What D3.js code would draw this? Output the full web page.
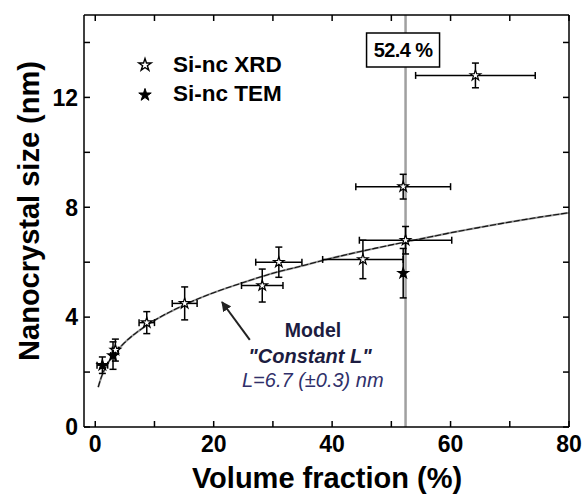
<!DOCTYPE html>
<meta charset="utf-8" />
<style>
  body {
    margin: 0;
    background: #fff;
  }

  svg text {
    font-family: "Liberation Sans", Arial, sans-serif;
  }

  .frame line {
    stroke: #000;
    stroke-width: 1.5px;
  }

  .errs line {
    stroke: #000;
    stroke-width: 1.5px;
  }
</style>
<svg width="582" height="500"></svg>

<script src="https://d3js.org/d3.v7.js"></script>
<script>
  /* global d3 */

  // Si-nc XRD points (open stars)
  var xrdX = [3.4, 8.7, 15.1, 28.2, 31.0, 45.2, 52.4, 52.0, 64.2];
  var xrdY = [2.8, 3.8, 4.5, 5.15, 6.0, 6.1, 6.8, 8.75, 12.8];
  var xrdXErr = [0.5, 1.3, 2.1, 3.5, 3.9, 6.8, 7.8, 8.0, 10.1];
  var xrdYErr = [0.4, 0.4, 0.6, 0.6, 0.55, 0.7, 0.5, 0.45, 0.45];

  // Si-nc TEM points (filled stars)
  var temX = [1.2, 3.0, 52.0];
  var temY = [2.25, 2.6, 5.6];
  var temXErr = [0.9, 0.4, 0];
  var temYErr = [0.3, 0.5, 0.9];

  // model "Constant L" curve
  var modelX = [0.5, 1, 2, 3, 5, 8, 10, 15, 20, 25, 30, 35, 40, 45, 50, 55, 60, 65, 70, 75, 80];
  var modelY = [1.45, 1.8, 2.27, 2.6, 3.08, 3.6, 3.88, 4.44, 4.89, 5.26, 5.6, 5.87, 6.15, 6.4, 6.63, 6.85, 7.07, 7.27, 7.46, 7.64, 7.8];

  var xMajor = [0, 20, 40, 60, 80];
  var xMinor = [10, 30, 50, 70];
  var yMajor = [0, 4, 8, 12];
  var yMinor = [2, 6, 10, 14];

  var markerX = 52.4;
  var markerLabel = "52.4 %";

  var svg = d3.select("svg");
  var plotL = 84,
    plotR = 569,
    plotT = 15,
    plotB = 427;

  var x = d3.scaleLinear().domain([-1.9, 80]).range([plotL, plotR]);
  var y = d3.scaleLinear().domain([0, 15]).range([plotB, plotT]);

  // vertical marker line
  svg
    .append("line")
    .attr("x1", x(markerX))
    .attr("x2", x(markerX))
    .attr("y1", y(0))
    .attr("y2", y(15))
    .attr("stroke", "#a0a0a0")
    .attr("stroke-width", 2.5);

  // model curve
  var modelPts = modelX.map(function (d, i) {
    return [d, modelY[i]];
  });
  var line = d3
    .line()
    .x(function (d) {
      return x(d[0]);
    })
    .y(function (d) {
      return y(d[1]);
    })
    .curve(d3.curveMonotoneX);

  svg
    .append("path")
    .attr("d", line(modelPts))
    .attr("fill", "none")
    .attr("stroke", "#909090")
    .attr("stroke-width", 2);
  svg
    .append("path")
    .attr("d", line(modelPts))
    .attr("fill", "none")
    .attr("stroke", "#111")
    .attr("stroke-width", 1.1)
    .attr("stroke-dasharray", "6,2");

  // error bars
  var errG = svg.append("g").attr("class", "errs");
  var cap = 3.5;

  function errorBars(xs, ys, xe, ye) {
    xs.forEach(function (d, i) {
      var cx = x(d),
        cy = y(ys[i]);
      if (xe[i] > 0) {
        var x0 = x(d - xe[i]),
          x1 = x(d + xe[i]);
        errG.append("line").attr("x1", x0).attr("x2", x1).attr("y1", cy).attr("y2", cy);
        errG.append("line").attr("x1", x0).attr("x2", x0).attr("y1", cy - cap).attr("y2", cy + cap);
        errG.append("line").attr("x1", x1).attr("x2", x1).attr("y1", cy - cap).attr("y2", cy + cap);
      }
      if (ye[i] > 0) {
        var y0 = y(ys[i] - ye[i]),
          y1 = y(ys[i] + ye[i]);
        errG.append("line").attr("x1", cx).attr("x2", cx).attr("y1", y0).attr("y2", y1);
        errG.append("line").attr("x1", cx - cap).attr("x2", cx + cap).attr("y1", y0).attr("y2", y0);
        errG.append("line").attr("x1", cx - cap).attr("x2", cx + cap).attr("y1", y1).attr("y2", y1);
      }
    });
  }
  errorBars(xrdX, xrdY, xrdXErr, xrdYErr);
  errorBars(temX, temY, temXErr, temYErr);

  var star = d3.symbol().type(d3.symbolStar).size(34);
  var starLegend = d3.symbol().type(d3.symbolStar).size(48);

  svg
    .append("g")
    .selectAll("path")
    .data(xrdX)
    .join("path")
    .attr("d", star)
    .attr("transform", function (d, i) {
      return "translate(" + x(d) + "," + y(xrdY[i]) + ")";
    })
    .attr("fill", "#fff")
    .attr("stroke", "#000")
    .attr("stroke-width", 1.2);

  svg
    .append("g")
    .selectAll("path")
    .data(temX)
    .join("path")
    .attr("d", star)
    .attr("transform", function (d, i) {
      return "translate(" + x(d) + "," + y(temY[i]) + ")";
    })
    .attr("fill", "#000")
    .attr("stroke", "#000")
    .attr("stroke-width", 1.2);

  // frame and inward ticks on all four sides
  var frame = svg.append("g").attr("class", "frame");
  frame.append("line").attr("x1", plotL).attr("x2", plotR).attr("y1", plotT).attr("y2", plotT);
  frame.append("line").attr("x1", plotL).attr("x2", plotR).attr("y1", plotB).attr("y2", plotB);
  frame.append("line").attr("x1", plotL).attr("x2", plotL).attr("y1", plotT).attr("y2", plotB);
  frame.append("line").attr("x1", plotR).attr("x2", plotR).attr("y1", plotT).attr("y2", plotB);

  var tk = 6;
  xMajor.concat(xMinor).forEach(function (v) {
    frame.append("line").attr("x1", x(v)).attr("x2", x(v)).attr("y1", plotB).attr("y2", plotB - tk);
    frame.append("line").attr("x1", x(v)).attr("x2", x(v)).attr("y1", plotT).attr("y2", plotT + tk);
  });
  yMajor.concat(yMinor).forEach(function (v) {
    frame.append("line").attr("x1", plotL).attr("x2", plotL + tk).attr("y1", y(v)).attr("y2", y(v));
    frame.append("line").attr("x1", plotR).attr("x2", plotR - tk).attr("y1", y(v)).attr("y2", y(v));
  });

  svg
    .append("g")
    .selectAll("text")
    .data(xMajor)
    .join("text")
    .attr("x", function (d) {
      return x(d);
    })
    .attr("y", 452)
    .attr("text-anchor", "middle")
    .attr("font-size", 23)
    .attr("font-weight", "bold")
    .text(function (d) {
      return d;
    });

  svg
    .append("g")
    .selectAll("text")
    .data(yMajor)
    .join("text")
    .attr("x", 78)
    .attr("y", function (d) {
      return y(d);
    })
    .attr("dy", "0.36em")
    .attr("text-anchor", "end")
    .attr("font-size", 23)
    .attr("font-weight", "bold")
    .text(function (d) {
      return d;
    });

  // axis titles
  svg
    .append("text")
    .attr("x", 327)
    .attr("y", 488)
    .attr("text-anchor", "middle")
    .attr("font-size", 29)
    .attr("font-weight", "bold")
    .text("Volume fraction (%)");

  svg
    .append("text")
    .attr("transform", "translate(39,211) rotate(-90)")
    .attr("text-anchor", "middle")
    .attr("font-size", 29)
    .attr("font-weight", "bold")
    .text("Nanocrystal size (nm)");

  // legend
  svg
    .append("path")
    .attr("d", starLegend)
    .attr("transform", "translate(145,65)")
    .attr("fill", "#fff")
    .attr("stroke", "#000")
    .attr("stroke-width", 1.4);
  svg
    .append("path")
    .attr("d", starLegend)
    .attr("transform", "translate(145,95)")
    .attr("fill", "#000")
    .attr("stroke", "#000")
    .attr("stroke-width", 1);
  svg
    .append("text")
    .attr("x", 173)
    .attr("y", 72)
    .attr("font-size", 22.5)
    .attr("font-weight", "bold")
    .text("Si-nc XRD");
  svg
    .append("text")
    .attr("x", 173)
    .attr("y", 101)
    .attr("font-size", 22.5)
    .attr("font-weight", "bold")
    .text("Si-nc TEM");

  // marker label box
  svg
    .append("rect")
    .attr("x", x(markerX) - 39)
    .attr("y", 33)
    .attr("width", 73)
    .attr("height", 34)
    .attr("fill", "#fff")
    .attr("stroke", "#000")
    .attr("stroke-width", 1.5);
  svg
    .append("text")
    .attr("x", x(markerX) - 2.5)
    .attr("y", 57)
    .attr("text-anchor", "middle")
    .attr("font-size", 20)
    .attr("font-weight", "bold")
    .attr("letter-spacing", -0.6)
    .text(markerLabel);

  // model annotation
  svg
    .append("defs")
    .append("marker")
    .attr("id", "ah")
    .attr("viewBox", "0 0 10 10")
    .attr("refX", 9)
    .attr("refY", 5)
    .attr("markerWidth", 5)
    .attr("markerHeight", 5)
    .attr("orient", "auto")
    .append("path")
    .attr("d", "M0,0L10,5L0,10z")
    .attr("fill", "#222");

  svg
    .append("line")
    .attr("x1", x(26.1))
    .attr("y1", y(3.17))
    .attr("x2", x(21.4))
    .attr("y2", y(4.55))
    .attr("stroke", "#222")
    .attr("stroke-width", 2)
    .attr("marker-end", "url(#ah)");

  svg
    .append("text")
    .attr("x", 313)
    .attr("y", 337)
    .attr("text-anchor", "middle")
    .attr("font-size", 19.5)
    .attr("font-weight", "bold")
    .attr("fill", "#1c1c40")
    .text("Model");
  svg
    .append("text")
    .attr("x", 310)
    .attr("y", 363)
    .attr("text-anchor", "middle")
    .attr("font-size", 20)
    .attr("font-weight", "bold")
    .attr("font-style", "italic")
    .attr("fill", "#1c1c40")
    .text("\"Constant L\"");
  svg
    .append("text")
    .attr("x", 242)
    .attr("y", 387)
    .attr("font-size", 20)
    .attr("font-style", "italic")
    .attr("fill", "#30306a")
    .text("L=6.7 (\u00b10.3) nm");
</script>
